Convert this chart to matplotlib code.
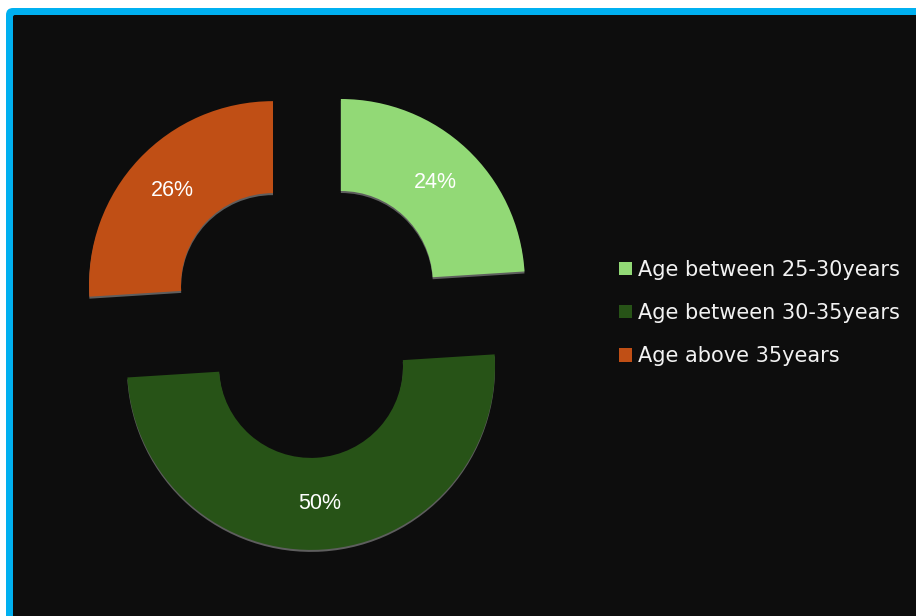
import matplotlib
matplotlib.use('Agg')
from matplotlib import pyplot as plt
from matplotlib.patches import FancyBboxPatch

# data
categories = ['Age between 25-30years', 'Age between 30-35years', 'Age above 35years']
shares = [24, 50, 26]
colors = ['#92d976', '#275317', '#c04f15']

W, H = 916, 616
fig = plt.figure(figsize=(W / 100, H / 100), dpi=100, facecolor='white')
ax = fig.add_axes([0, 0, 1, 1])

# frame: blue border with rounded corner, dark panel inside
ax.add_patch(FancyBboxPatch((6, -30), W + 40, H - 8 + 30,
                            boxstyle='round,pad=0,rounding_size=7',
                            fc='#00b0f0', ec='none', zorder=0))
ax.add_patch(FancyBboxPatch((13, -30), W + 40, H - 15 + 30,
                            boxstyle='round,pad=0,rounding_size=2',
                            fc='#0d0d0d', ec='none', zorder=0.5))

center = (308, H - 318)
radius = 184
explode = [48] * len(shares)   # pie offsets are in data units here

# faint shadow under the ring
ax.pie(shares, radius=radius, center=(center[0], center[1] - 2),
       startangle=90, counterclock=False, explode=explode,
       colors=['#5e5e5e'] * 3, wedgeprops=dict(width=radius * 0.5, linewidth=0),
       frame=True)

wedges, texts, autotexts = ax.pie(
    shares, radius=radius, center=center, startangle=90, counterclock=False,
    explode=explode, colors=colors, autopct='%d%%', pctdistance=0.75,
    wedgeprops=dict(width=radius * 0.5, linewidth=0),
    textprops=dict(color='white', fontsize=15.5, family='Liberation Sans'),
    frame=True)

ax.set_xlim(0, W)
ax.set_ylim(0, H)
ax.set_aspect('equal')
ax.axis('off')

leg = ax.legend(wedges, categories, loc='center left',
                bbox_to_anchor=(619 / W, 1 - 313 / H), frameon=False,
                prop=dict(family='DejaVu Sans', size=15),
                labelcolor='#f2f2f2', handlelength=0.6, handleheight=0.6,
                handletextpad=0.3, labelspacing=1.12, borderaxespad=0,
                borderpad=0)

fig.savefig('out.png', dpi=100, facecolor='white')
